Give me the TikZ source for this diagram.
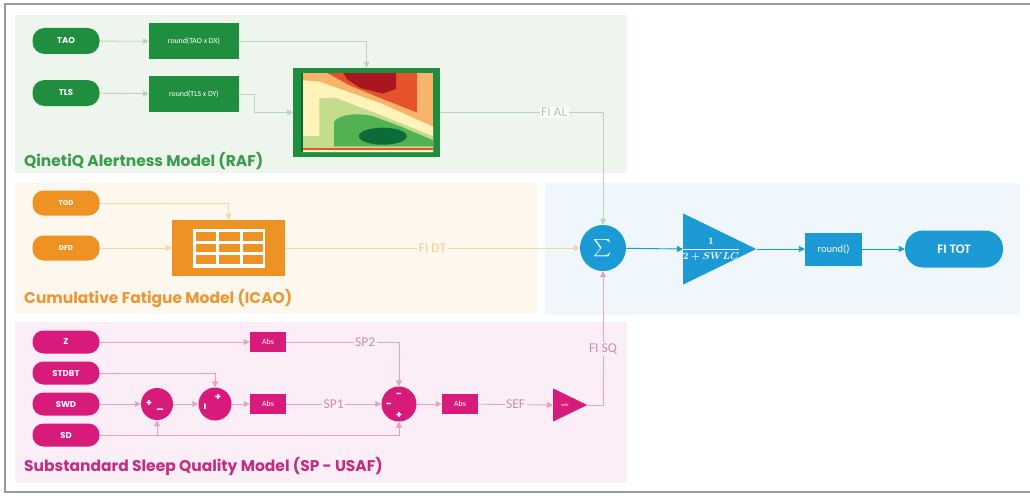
\documentclass[tikz,border=0pt]{standalone}
\usepackage{amsmath}
\usepackage{fontspec}
\setmainfont{Carlito}
\newfontfamily\popp{Poppins}
\usetikzlibrary{arrows.meta,shapes.geometric}
\definecolor{gDark}{HTML}{1F8E3E}
\definecolor{gBg}{HTML}{EEF5EC}
\definecolor{gLine}{HTML}{B9D7B7}
\definecolor{gTitle}{HTML}{3A9B4A}
\definecolor{gLab}{HTML}{A9D1A3}
\definecolor{oDark}{HTML}{EF9224}
\definecolor{oBg}{HTML}{FEF7EE}
\definecolor{oLine}{HTML}{F7D4A6}
\definecolor{oTitle}{HTML}{E89834}
\definecolor{oLab}{HTML}{F4CB92}
\definecolor{bDark}{HTML}{1B9AD6}
\definecolor{bBg}{HTML}{EFF7FC}
\definecolor{pDark}{HTML}{D81B7B}
\definecolor{pBg}{HTML}{FCEEF6}
\definecolor{pLine}{HTML}{E3A3C3}
\definecolor{pTitle}{HTML}{C42C80}
\definecolor{pLab}{HTML}{C98DAC}
\definecolor{hmO}{HTML}{F9B46C}
\definecolor{hmR}{HTML}{E5522B}
\definecolor{hmDR}{HTML}{A8161F}
\definecolor{hmY}{HTML}{FFF3BA}
\definecolor{hmLG}{HTML}{C3DD8D}
\definecolor{hmG}{HTML}{52B152}
\definecolor{hmDG}{HTML}{0B6C38}
\tikzset{
  pill/.style={rectangle, rounded corners=11pt, minimum width=67pt, minimum height=24pt, inner sep=0pt, text=white, font=\popp\bfseries\fontsize{8.5}{9}\selectfont},
  sqbox/.style={rectangle, minimum width=90pt, minimum height=36pt, inner sep=0pt, text=white, font=\fontsize{7.8}{8}\selectfont},
  absbox/.style={rectangle, fill=pDark, minimum width=36pt, minimum height=20pt, inner sep=0pt, text=white, font=\fontsize{8}{9}\selectfont},
  sumc/.style={circle, fill=pDark, inner sep=0pt},
  sgn/.style={text=white, inner sep=0pt, font=\popp\bfseries\fontsize{10}{10}\selectfont},
  arr/.style={-{Triangle[length=6pt,width=6pt]}},
  conn/.style={line width=0.9pt},
  lab/.style={inner sep=1.5pt, font=\fontsize{13.5}{14}\selectfont},
  ttl/.style={anchor=west, inner sep=0pt, font=\popp\bfseries\fontsize{15.5}{16}\selectfont},
  tri/.style={isosceles triangle, isosceles triangle stretches, inner sep=0pt, anchor=lower side},
}
\begin{document}
\begin{tikzpicture}[x=1pt,y=-1pt]
\useasboundingbox (0,0) rectangle (1030,495);
\fill[white] (0,0) rectangle (1030,495);
% outer frame
\draw[black!40, line width=2.4pt] (1040,4) -- (5,4) -- (5,492) -- (1040,492);
% section backgrounds
\fill[gBg] (15,15) rectangle (627,173);
\fill[oBg] (15,183) rectangle (537,313);
\fill[bBg] (545,183) rectangle (1020,315);
\fill[pBg] (15,322) rectangle (627,483);

% ---------------- green section
\node[pill, fill=gDark, minimum height=26pt, rounded corners=12pt] (tao) at (66,41) {TAO};
\node[pill, fill=gDark, minimum height=26pt, rounded corners=12pt] (tls) at (66,93) {TLS};
\node[sqbox, fill=gDark] (bx1) at (194,41.5) {round(TAO x DX)};
\node[sqbox, fill=gDark] (bx2) at (194,94) {round(TLS x DY)};
\node[rectangle, fill=gDark, minimum width=147pt, minimum height=89pt, inner sep=0pt] (hm) at (366.5,112.5) {};
\begin{scope}[shift={(301,73)}, x=132pt, y=-79pt]
  \clip (0,0) rectangle (1,1);
  \fill[hmO] (0,0) rectangle (1,1);
  \fill[hmR] (0.2,0) -- (0.88,0) -- (0.88,0.5) -- (0.62,0.33) -- (0.36,0.15) -- cycle;
  \fill[hmDR] (0.32,0) -- (0.72,0) -- (0.72,0.2) -- (0.62,0.26) -- (0.45,0.19) -- (0.35,0.08) -- cycle;
  \fill[hmY] (0,0.09) -- (0.14,0.11) -- (0.6,0.38) -- (1,0.68) -- (1,1) -- (0,1) -- cycle;
  \fill[hmLG] (0.14,1) -- (0.14,0.32) -- (0.26,0.31) -- (0.38,0.39) -- (0.63,0.55) -- (1,0.8) -- (1,1) -- cycle;
  \fill[hmLG] (0,0.8) rectangle (1,1);
  \fill[hmG] (0.25,0.93) -- (0.25,0.62) .. controls (0.28,0.52) and (0.45,0.5) .. (0.55,0.55) -- (0.76,0.68) -- (1,0.85) -- (1,0.93) -- cycle;
  \fill[hmDG] (0.62,0.8) ellipse [x radius=24pt, y radius=8.5pt];
  \fill[hmR] (0,0.95) rectangle (1,0.975);
  \fill[hmY] (0,0.975) rectangle (1,1);
  \fill[hmDG] (0,0) rectangle (0.012,1);
\end{scope}
\node[ttl, text=gTitle] (tg) at (24,161) {QinetiQ Alertness Model (RAF)};

% ---------------- orange section
\node[pill, fill=oDark, minimum height=25pt, font=\popp\bfseries\fontsize{7}{7}\selectfont] (tod) at (66,203) {TOD};
\node[pill, fill=oDark, minimum height=25pt, font=\popp\bfseries\fontsize{7}{7}\selectfont] (dfd) at (66,248) {DFD};
\node[rectangle, fill=oDark, minimum width=113pt, minimum height=56pt, inner sep=0pt] (tbl) at (228.5,248) {};
\fill[white] (193,229) rectangle (265,268);
\foreach \i in {0,1,2}{
  \foreach \j in {0,1,2}{
    \fill[oDark] ({196+\i*23.3},{232+\j*11.7}) rectangle ++(20.3,8.7);
  }
}
\node[ttl, text=oTitle] (to) at (24,299) {Cumulative Fatigue Model (ICAO)};

% ---------------- blue section
\node[circle, fill=bDark, minimum size=46pt, inner sep=0pt, text=white] (sig) at (603,248) {\LARGE$\sum$};
\node[tri, fill=bDark, minimum width=71pt, minimum height=73pt] (tri) at (683,249) {};
\node[text=white, inner sep=0pt] (frac) at (711,249) {\fontsize{10}{12}\selectfont$\boldsymbol{\dfrac{1}{2+SWLC}}$};
\node[rectangle, fill=bDark, minimum width=57pt, minimum height=33pt, inner sep=0pt, text=white, font=\fontsize{10.5}{12}\selectfont] (rnd) at (833.5,249) {round()};
\node[pill, fill=bDark, minimum width=98pt, minimum height=37pt, rounded corners=18pt, font=\bfseries\fontsize{13}{14}\selectfont] (fitot) at (954,249) {FI TOT};

% ---------------- pink section
\node[pill, fill=pDark, minimum height=23pt] (z) at (66,342) {Z};
\node[pill, fill=pDark, minimum height=23pt] (stdbt) at (66,373) {STDBT};
\node[pill, fill=pDark, minimum height=23pt] (swd) at (66,404) {SWD};
\node[pill, fill=pDark, minimum height=23pt] (sd) at (66,435) {SD};
\node[absbox] (absz) at (268,342) {Abs};
\node[sumc, minimum size=32pt] (c1) at (157,404) {};
\node[sumc, minimum size=33pt] (c2) at (215,404) {};
\node[absbox] (abs1) at (268,404) {Abs};
\node[sumc, minimum size=35pt] (c3) at (399,404) {};
\node[absbox] (abs3) at (460,404) {Abs};
\node[tri, fill=pDark, minimum width=33pt, minimum height=34pt] (swlc) at (553,405) {};
\node[text=white, inner sep=0pt, font=\fontsize{4.5}{5}\selectfont] (swlct) at (565,405) {swlc};
\node[sgn] (s1a) at (149,403) {+};
\node[sgn] (s1b) at (160,410) {\_};
\node[sgn] (s2a) at (218,397) {+};
\node[sgn] (s2b) at (205,407) {ı};
\node[sgn] (s3a) at (399,395) {-};
\node[sgn] (s3b) at (389,405) {-};
\node[sgn] (s3c) at (399,415) {+};
\node[ttl, text=pTitle] (tp) at (24,466) {Substandard Sleep Quality Model (SP - USAF)};

% ---------------- connectors
\draw[conn, gLine, arr] (tao) -- (bx1);
\draw[conn, gLine, arr] (tls) -- (bx2);
\draw[conn, gLine, arr] (bx1.east) -| (hm.north);
\draw[conn, gLine, arr] (bx2.east) -- ++(15,0) |- (hm.west);
\draw[conn, gLine, arr] (hm.east) -| node[pos=0.35, lab, fill=white, text=gLab] (lfial) {FI AL} (sig.north);

\draw[conn, oLine, arr] (tod.east) -| (tbl.north);
\draw[conn, oLine, arr] (dfd) -- (tbl);
\draw[conn, oLine, arr] (tbl) -- node[pos=0.5, lab, fill=oBg, text=oLab] (lfidt) {FI DT} (sig);

\draw[conn, bDark, arr] (sig) -- (tri.lower side);
\draw[conn, bDark, arr] (tri.apex) -- (rnd);
\draw[conn, bDark, arr] (rnd) -- (fitot);

\draw[conn, pLine, arr] (z) -- (absz);
\draw[conn, pLine, arr] (absz.east) -| node[pos=0.35, lab, fill=pBg, text=pLab] (lsp2) {SP2} (c3.north);
\draw[conn, pLine, arr] (stdbt.east) -| (c2.north);
\draw[conn, pLine, arr] (swd) -- (c1);
\draw[conn, pLine, arr] (c1) -- (c2);
\draw[conn, pLine, arr] (c2) -- (abs1);
\draw[conn, pLine, arr] (abs1) -- node[pos=0.5, lab, fill=pBg, text=pLab] (lsp1) {SP1} (c3);
\draw[conn, pLine, arr] (c3) -- (abs3);
\draw[conn, pLine, arr] (abs3) -- node[pos=0.5, lab, fill=pBg, text=pLab] (lsef) {SEF} (swlc.lower side);
\draw[conn, pLine, arr] (sd.east) -| (c3.south);
\draw[conn, pLine, arr] (sd.east -| c1.south) -- (c1.south);
\draw[conn, pLine, arr] (swlc.apex) -| node[pos=0.71, lab, fill=pBg, text=pLab] (lfisq) {FI SQ} (sig.south);
\end{tikzpicture}
\end{document}
